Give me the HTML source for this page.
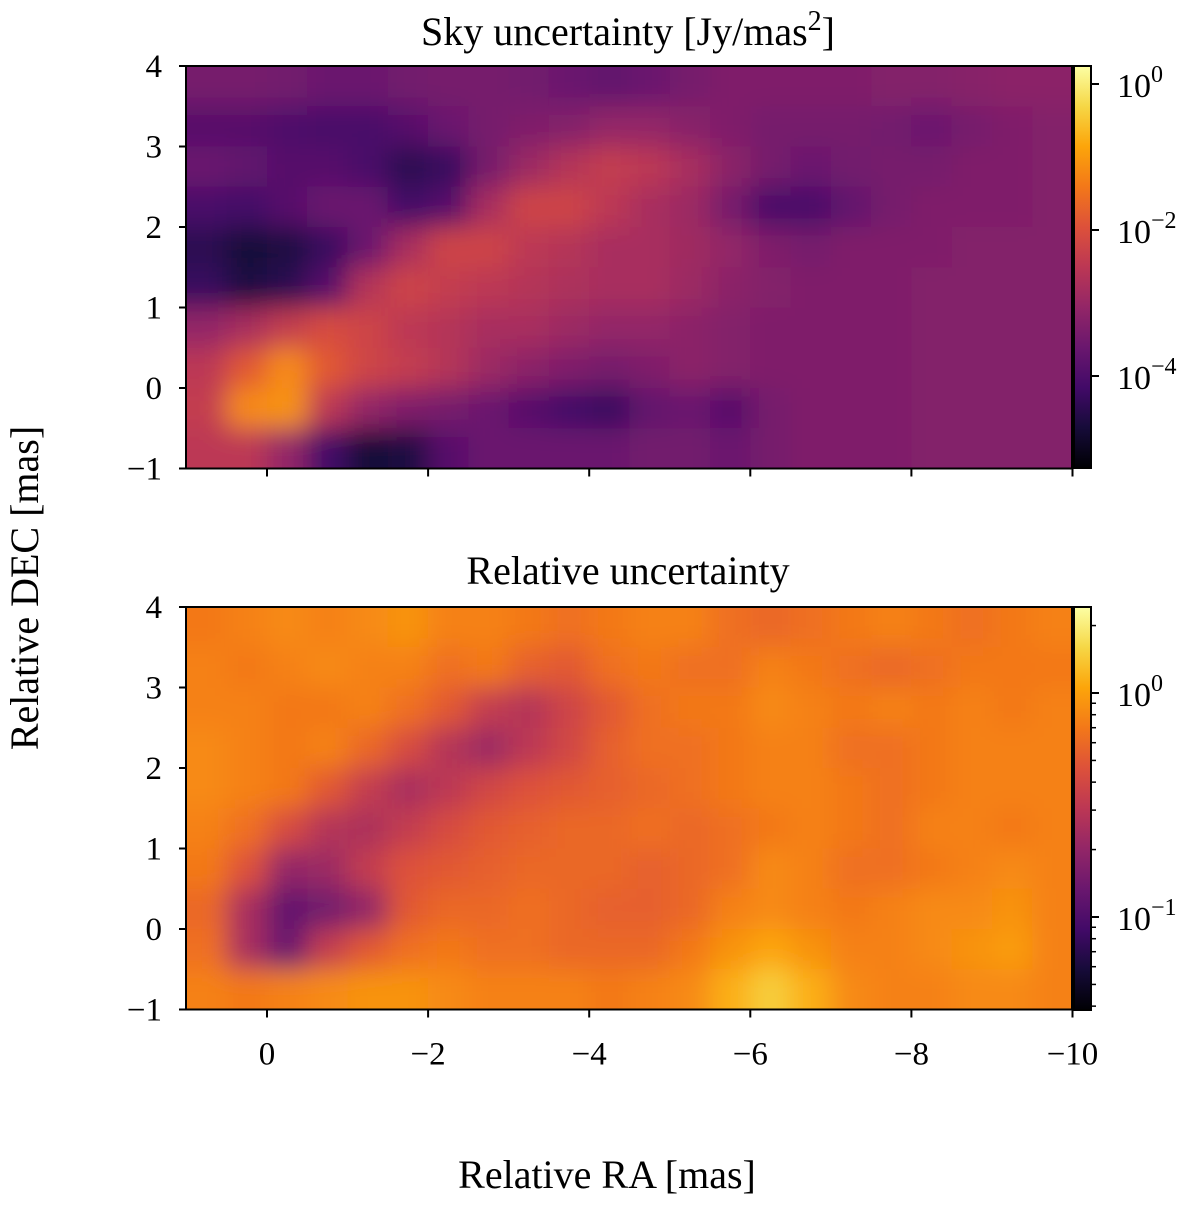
<!DOCTYPE html>
<html><head><meta charset="utf-8"><style>
body{margin:0;background:#fff;}
svg text{font-family:"Liberation Serif",serif;fill:#000;}
</style></head><body>
<svg id="fig" width="1200" height="1206" xmlns="http://www.w3.org/2000/svg">
<defs>
<filter id="blur" x="0" y="0" width="1200" height="1206" filterUnits="userSpaceOnUse"><feGaussianBlur stdDeviation="13"/></filter>
<clipPath id="c1"><rect x="186" y="66" width="886" height="402"/></clipPath>
<clipPath id="c2"><rect x="186" y="607" width="886" height="403"/></clipPath>
<linearGradient id="inferno" x1="0" y1="1" x2="0" y2="0">
<stop offset="0" stop-color="#000004"/><stop offset="0.1" stop-color="#160b39"/><stop offset="0.2" stop-color="#420a68"/><stop offset="0.3" stop-color="#6a176e"/><stop offset="0.4" stop-color="#932667"/><stop offset="0.5" stop-color="#bc3754"/><stop offset="0.6" stop-color="#dd513a"/><stop offset="0.7" stop-color="#f37819"/><stop offset="0.8" stop-color="#fca50a"/><stop offset="0.9" stop-color="#f6d746"/><stop offset="1" stop-color="#fcffa4"/>
</linearGradient>
</defs>
<g id="g1" clip-path="url(#c1)"><g id="h1" filter="url(#blur)"></g></g>
<g id="g2" clip-path="url(#c2)"><g id="h2" filter="url(#blur)"></g></g>
<g id="axes"></g>
</svg>
<script>
const ncols = 22, nrows = 10;
const raStart = 1, raStep = -0.5, decStart = 4, decStep = -0.5;
const xTicks = [0,-2,-4,-6,-8,-10];
const yTicks = [4,3,2,1,0,-1];
const skyVals = [
[.33,.33,.32,.30,.30,.32,.33,.33,.32,.30,.28,.30,.33,.35,.35,.35,.35,.36,.36,.37,.38,.38],
[.25,.25,.23,.22,.22,.25,.30,.33,.35,.36,.40,.40,.37,.35,.33,.33,.33,.32,.30,.33,.35,.36],
[.30,.28,.25,.25,.22,.15,.18,.33,.42,.48,.52,.50,.45,.38,.33,.30,.32,.33,.33,.35,.35,.36],
[.22,.20,.25,.30,.30,.20,.25,.45,.55,.55,.50,.45,.42,.33,.22,.22,.28,.33,.35,.35,.35,.36],
[.15,.10,.12,.18,.30,.45,.55,.55,.50,.48,.45,.45,.43,.40,.35,.33,.35,.35,.35,.36,.36,.36],
[.18,.12,.15,.25,.48,.55,.52,.50,.48,.46,.45,.45,.42,.38,.36,.35,.35,.35,.36,.36,.36,.36],
[.40,.45,.52,.58,.55,.50,.48,.45,.45,.42,.40,.40,.38,.36,.35,.35,.35,.35,.36,.36,.36,.36],
[.50,.62,.74,.62,.55,.52,.48,.42,.38,.35,.33,.35,.38,.36,.35,.35,.35,.35,.36,.36,.36,.36],
[.52,.74,.76,.50,.40,.35,.33,.30,.25,.20,.18,.28,.30,.25,.33,.35,.35,.35,.36,.36,.36,.36],
[.50,.50,.40,.20,.10,.12,.25,.30,.30,.30,.30,.32,.32,.30,.33,.35,.35,.35,.36,.36,.36,.36]];
const relVals = [
[.70,.72,.74,.72,.74,.76,.72,.72,.70,.68,.70,.72,.72,.68,.66,.68,.70,.72,.70,.68,.70,.72],
[.72,.70,.72,.74,.72,.72,.68,.70,.64,.62,.68,.70,.68,.68,.72,.70,.68,.66,.68,.70,.70,.70],
[.72,.72,.70,.70,.72,.68,.62,.52,.48,.55,.62,.68,.70,.70,.74,.72,.70,.72,.70,.72,.70,.72],
[.74,.72,.70,.72,.66,.58,.48,.42,.50,.56,.64,.68,.68,.70,.72,.72,.68,.68,.70,.72,.72,.72],
[.74,.72,.70,.62,.52,.45,.50,.56,.60,.62,.64,.66,.68,.70,.72,.72,.70,.68,.70,.72,.72,.72],
[.72,.68,.58,.48,.46,.52,.58,.62,.64,.66,.66,.68,.66,.68,.70,.72,.70,.68,.72,.72,.70,.72],
[.70,.60,.40,.42,.52,.60,.62,.64,.66,.66,.66,.64,.66,.68,.74,.72,.68,.68,.70,.72,.74,.72],
[.66,.45,.28,.32,.40,.62,.66,.66,.68,.66,.64,.64,.66,.72,.74,.72,.70,.72,.74,.74,.76,.72],
[.68,.45,.30,.52,.62,.68,.70,.68,.68,.66,.66,.66,.70,.76,.80,.76,.72,.72,.74,.76,.78,.72],
[.72,.70,.72,.74,.76,.76,.74,.72,.72,.72,.70,.72,.74,.82,.88,.82,.74,.72,.72,.74,.74,.72]];
const cb1Ticks = [0,-2,-4], cb1Labels = ["0","−2","−4"];
const cb2Ticks = [0,-1], cb2Labels = ["0","−1"];

const NS="http://www.w3.org/2000/svg";
const stops=[[0,0,4],[22,11,57],[66,10,104],[106,23,110],[147,38,103],[188,55,84],[221,81,58],[243,120,25],[252,165,10],[246,215,70],[252,255,164]];
function cmap(v){v=Math.max(0,Math.min(1,v));const f=v*10,i=Math.min(9,Math.floor(f)),t=f-i;const a=stops[i],b=stops[i+1];return `rgb(${a.map((c,k)=>Math.round(c+(b[k]-c)*t)).join(',')})`;}
function mk(tag,attrs,parent){const e=document.createElementNS(NS,tag);for(const k in attrs)e.setAttribute(k,attrs[k]);parent.appendChild(e);return e;}
const X=ra=>267-80.55*ra;
const EXT=60;
function panel(top,hid,vals,showX){
  const Y=d=>top+(4-d)*80.5;
  const h=document.getElementById(hid);
  for(let r=0;r<nrows;r++)for(let c=0;c<ncols;c++){
    const ra0=raStart+c*raStep, d0=decStart+r*decStep;
    let x0=X(ra0), x1=X(ra0+raStep), y0=Y(d0), y1=Y(d0+decStep);
    if(c===0)x0-=EXT; if(c===ncols-1)x1+=EXT; if(r===0)y0-=EXT; if(r===nrows-1)y1+=EXT;
    const e=mk('rect',{x:x0,y:y0,width:x1-x0+0.5,height:y1-y0+0.5,fill:cmap(vals[r][c])},h);
    
    
  }
  const ax=document.getElementById('axes');
  const fr=mk('rect',{x:186,y:top,width:886,height:402.5,fill:'none',stroke:'#000','stroke-width':2},ax);
  
  
  yTicks.forEach(t=>{const y=Y(t);mk('line',{x1:179,x2:186,y1:y,y2:y,stroke:'#000','stroke-width':2},ax);
    const tx=mk('text',{x:162,y:y+11,'font-size':33,'text-anchor':'end'},ax);tx.textContent=t<0?'−'+(-t):String(t);
    
    });
  xTicks.forEach(t=>{const x=X(t),yb=top+402.5;mk('line',{x1:x,x2:x,y1:yb,y2:yb+8,stroke:'#000','stroke-width':2},ax);
    if(showX){const tx=mk('text',{x:x,y:yb+55,'font-size':33,'text-anchor':'middle'},ax);tx.textContent=t<0?'−'+(-t):String(t);
    
    }});
}
panel(66,'h1',skyVals,false);
panel(607,'h2',relVals,true);
const ax=document.getElementById('axes');
function colorbar(top,bot,zeroY,decPx,majors,labels,minor){
  const cb=mk('rect',{x:1074,y:top,width:17,height:bot-top,fill:'url(#inferno)',stroke:'#000','stroke-width':2},ax);
  
  
  majors.forEach((m,i)=>{const y=zeroY-m*decPx;mk('line',{x1:1091,x2:1099,y1:y,y2:y,stroke:'#000','stroke-width':2},ax);
    const t=mk('text',{x:1117,y:y+13,'font-size':34},ax);t.innerHTML='10<tspan dy="-15" font-size="24">'+labels[i]+'</tspan>';
    
    });
  if(minor){for(let d=-2;d<=0;d++)for(let k=2;k<=9;k++){const y=zeroY-(d+Math.log10(k))*decPx;if(y>top&&y<bot)mk('line',{x1:1091,x2:1096,y1:y,y2:y,stroke:'#000','stroke-width':1.5},ax);}}
}
colorbar(66,468,84,73,cb1Ticks,cb1Labels,false);
colorbar(607,1010,693,224,cb2Ticks,cb2Labels,true);
function label(txt,x,y,name,rot){const t=mk('text',{x:x,y:y,'font-size':40,'text-anchor':'middle'},ax);t.innerHTML=txt;if(rot)t.setAttribute('transform',`rotate(-90 ${x} ${y})`);
  
  }
label('Sky uncertainty [Jy/mas<tspan dy="-15" font-size="28">2</tspan><tspan dy="15">]</tspan>',628,45,'top-title');
label('Relative uncertainty',628,584,'bottom-title');
label('Relative RA [mas]',607,1188,'x-axis-title');
label('Relative DEC [mas]',38,588,'y-axis-title',true);
</script>
</body></html>
